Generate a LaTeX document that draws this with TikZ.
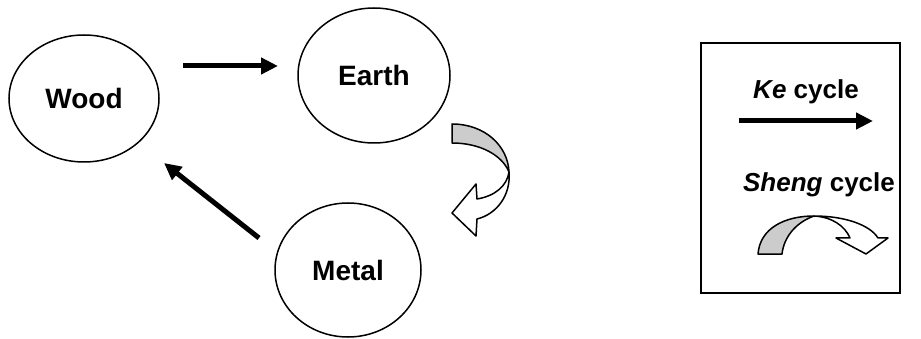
\documentclass[tikz,border=0pt]{standalone}
\usepackage{fontspec}
\setmainfont{Liberation Sans}
\usetikzlibrary{arrows.meta,shapes.geometric}
\definecolor{ribbongray}{RGB}{204,204,204}

\begin{document}
\begin{tikzpicture}[x=1pt,y=-1pt,
    element/.style={draw,ellipse,line width=1.5pt,inner sep=0pt,
      font=\fontsize{28}{32}\selectfont\bfseries},
    kearrow/.style={line width=5pt,-{Triangle[length=17pt,width=16pt]}},
    ribbon/.style={draw,line width=1.5pt,line join=round},
    legendtext/.style={font=\fontsize{26}{30}\selectfont\bfseries}]
  \useasboundingbox (0,0) rectangle (921,339);
  \node[element,minimum width=150pt,minimum height=127pt] (wood) at (84,98.5) {Wood};
  \node[element,minimum width=152pt,minimum height=135pt] (earth) at (374,75.5) {Earth};
  \node[element,minimum width=146pt,minimum height=134pt] (metal) at (348,270) {Metal};
  \coordinate (keA) at (183,66);
  \coordinate (keB) at (278,66);
  \coordinate (mwA) at (259,238);
  \coordinate (mwB) at (164,163);
  \draw[kearrow] (keA) -- (keB);
  \draw[kearrow] (mwA) -- (mwB);
  \filldraw[ribbon,fill=ribbongray] (452,124) .. controls (485,124) and (508,146) .. (509,172)
    .. controls (502,155) and (480,143) .. (452,143) -- cycle;
  \filldraw[ribbon,fill=white] (509,172) .. controls (511,195) and (497,214) .. (477,219)
    -- (476,236) -- (452,213) -- (476,184) -- (477,199)
    .. controls (495,196) and (507,186) .. (509,172) -- cycle;
  \draw[line width=2pt] (701,43) rectangle (900,293);
  \node[legendtext] (ketext) at (806,92) {\textit{Ke} cycle};
  \coordinate (legA) at (739,121);
  \coordinate (legB) at (873,121);
  \draw[kearrow] (legA) -- (legB);
  \node[legendtext] (shengtext) at (819,185) {\textit{Sheng} cycle};
  \filldraw[ribbon,fill=ribbongray] (758,254) -- (782,254)
    .. controls (784,236) and (797,222) .. (814,216)
    .. controls (785,216) and (760,228) .. (758,254) -- cycle;
  \filldraw[ribbon,fill=white] (814,216) .. controls (845,216) and (870,225) .. (878,238)
    -- (888,238) -- (866,254) -- (836,238) -- (850,238)
    .. controls (845,226) and (832,217) .. (814,216) -- cycle;
\end{tikzpicture}
\end{document}
